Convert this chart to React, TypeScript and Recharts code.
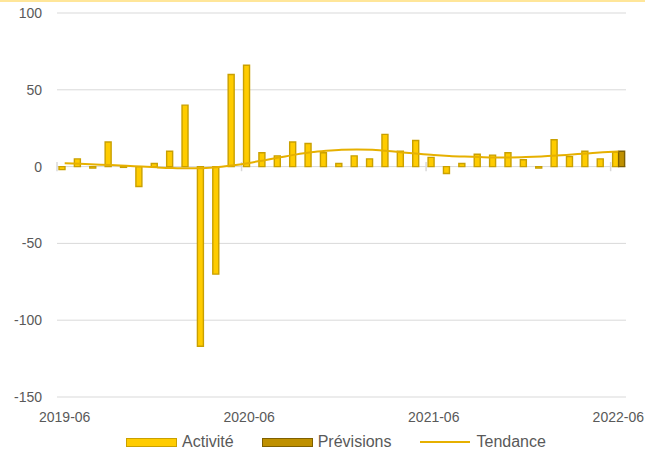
import {
  ComposedChart, Bar, Line, XAxis, YAxis, CartesianGrid, ReferenceLine, Legend,
} from 'recharts';

const MONTHS = [
  '2019-06', '2019-07', '2019-08', '2019-09', '2019-10', '2019-11', '2019-12',
  '2020-01', '2020-02', '2020-03', '2020-04', '2020-05', '2020-06', '2020-07',
  '2020-08', '2020-09', '2020-10', '2020-11', '2020-12', '2021-01', '2021-02',
  '2021-03', '2021-04', '2021-05', '2021-06', '2021-07', '2021-08', '2021-09',
  '2021-10', '2021-11', '2021-12', '2022-01', '2022-02', '2022-03', '2022-04',
  '2022-05', '2022-06',
];

const ACTIVITE = [
  -2, 5, -1, 16, -0.5, -13, 2, 10, 40, -117, -70, 60, 66, 9, 7, 16, 15, 9, 2,
  7, 5, 21, 10, 17, 6, -4.5, 2, 8, 7.5, 9, 4.5, -1, 17.5, 6.5, 10, 5, 9.5,
];

// only the last month is a forecast
const PREVISIONS: (number | null)[] = [
  null, null, null, null, null, null, null, null, null, null, null, null, null,
  null, null, null, null, null, null, null, null, null, null, null, null, null,
  null, null, null, null, null, null, null, null, null, null, 10,
];

const TENDANCE = [
  2.2, 1.8, 1.4, 1.0, 0.5, 0, -0.5, -0.9, -1.1, -1.0, -0.3, 0.9, 2.4, 4.2, 6.0,
  7.8, 9.3, 10.3, 11.0, 11.2, 10.9, 10.2, 9.2, 8.3, 7.5, 6.9, 6.5, 6.2, 6.0,
  6.0, 6.2, 6.6, 7.2, 7.9, 8.6, 9.3, 9.9,
];

const X_TICKS = ['2019-06', '2020-06', '2021-06', '2022-06'];
// month index of the axis tick marks (drawn on the left edge of each band)
const TICK_MARKS = [0, 12, 24, 36];
const Y_TICKS = [-150, -100, -50, 0, 50, 100];

const COLORS = {
  activite: '#FFCC00',
  activiteBorder: '#C9A000',
  previsions: '#BF9000',
  previsionsBorder: '#7F6000',
  tendance: '#E6B000',
  grid: '#D9D9D9',
  text: '#595959',
};

const FONT = '"Liberation Sans", Arial, sans-serif';

const data = MONTHS.map((m, i) => ({
  month: m,
  pos: i + 0.5,
  activite: ACTIVITE[i],
  previsions: PREVISIONS[i],
  tendance: TENDANCE[i],
}));

function LegendContent() {
  const item = { display: 'flex', alignItems: 'center', gap: 5 } as const;
  return (
    <div
      style={{
        display: 'flex', justifyContent: 'center', alignItems: 'center', gap: 28,
        height: 22, paddingLeft: 46, fontFamily: FONT, fontSize: 16, color: COLORS.text,
      }}
    >
      <span style={item}>
        <span style={{ width: 49, height: 7, background: COLORS.activite, border: `1.5px solid ${COLORS.activiteBorder}` }} />
        Activité
      </span>
      <span style={item}>
        <span style={{ width: 49, height: 7, background: COLORS.previsions, border: `1.5px solid ${COLORS.previsionsBorder}` }} />
        Prévisions
      </span>
      <span style={{ ...item, gap: 7 }}>
        <span style={{ width: 50, height: 2, background: COLORS.tendance }} />
        Tendance
      </span>
    </div>
  );
}

export default function App() {
  return (
    <div style={{ position: 'absolute', left: 0, top: 0, width: 645, height: 453, background: '#fff' }}>
      <div style={{ position: 'absolute', left: 0, top: 0, width: 645, height: 2, background: '#FFE699' }} />
      <ComposedChart
        width={645}
        height={453}
        data={data}
        margin={{ top: 13, right: 19, bottom: 0, left: 0 }}
        barGap={0}
        barSize={6}
      >
        <CartesianGrid vertical={false} stroke={COLORS.grid} strokeWidth={1} />
        <XAxis
          dataKey="month"
          ticks={X_TICKS}
          interval={0}
          axisLine={false}
          tickLine={false}
          tickSize={0}
          tickMargin={15}
          height={34}
          tick={{ fill: COLORS.text, fontSize: 14, fontFamily: FONT }}
        />
        {/* hidden numeric axis spanning the same bands, used for the tick marks */}
        <XAxis
          xAxisId="idx"
          dataKey="pos"
          type="number"
          domain={[0, MONTHS.length]}
          allowDataOverflow
          hide
        />
        <YAxis
          domain={[-150, 100]}
          ticks={Y_TICKS}
          width={57}
          axisLine={false}
          tickLine={false}
          tickSize={0}
          tickMargin={15}
          tick={{ fill: COLORS.text, fontSize: 14, fontFamily: FONT }}
        />
        {TICK_MARKS.map((i) => (
          <ReferenceLine
            key={i}
            xAxisId="idx"
            segment={[{ x: i, y: 3 }, { x: i, y: -3 }]}
            stroke={COLORS.grid}
            strokeWidth={1.5}
          />
        ))}
        <Bar
          dataKey="activite"
          name="Activité"
          fill={COLORS.activite}
          stroke={COLORS.activiteBorder}
          strokeWidth={1.4}
          isAnimationActive={false}
        />
        <Bar
          dataKey="previsions"
          name="Prévisions"
          fill={COLORS.previsions}
          stroke={COLORS.previsionsBorder}
          strokeWidth={1.4}
          isAnimationActive={false}
        />
        <Line
          type="monotone"
          dataKey="tendance"
          name="Tendance"
          stroke={COLORS.tendance}
          strokeWidth={2}
          dot={false}
          activeDot={false}
          isAnimationActive={false}
        />
        <Legend verticalAlign="bottom" content={<LegendContent />} />
      </ComposedChart>
    </div>
  );
}
